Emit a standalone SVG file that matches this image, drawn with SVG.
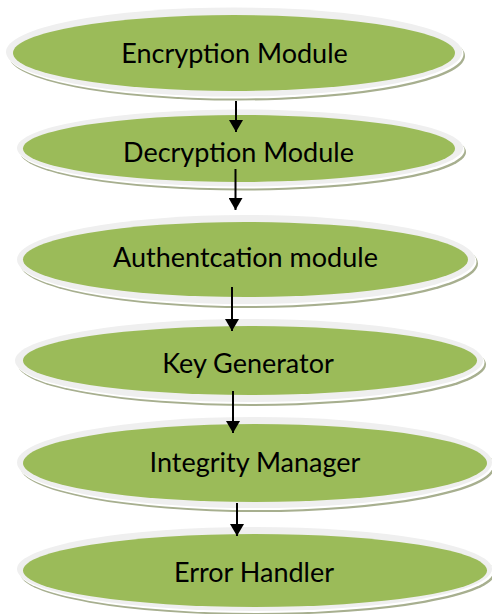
<svg xmlns="http://www.w3.org/2000/svg" width="492" height="614" viewBox="0 0 492 614">
  <style>
    .shadow { fill: #a7af8f; }
    .rim { fill: #ffffff; }
    .outer { fill: #efefef; }
    .core { fill: #9bbb59; }
    .label { font-family: Lato, "Open Sans", "Liberation Sans", sans-serif; font-size: 27px; fill: #000000; text-anchor: middle; }
    .link { stroke: #000000; stroke-width: 2; fill: none; marker-end: url(#head); }
  </style>
  <defs>
    <marker id="head" viewBox="0 0 12 14" refX="12" refY="7" markerWidth="12" markerHeight="14" markerUnits="userSpaceOnUse" orient="auto">
      <path d="M0,0 L12,7 L0,14 Z" fill="#000000"/>
    </marker>
  </defs>

  <rect width="492" height="614" fill="#ffffff"/>

  <g id="encryption-module">
    <ellipse class="shadow" cx="237" cy="56" rx="228" ry="44.5"/>
    <ellipse class="rim" cx="235.5" cy="54" rx="228" ry="44.5"/>
    <ellipse class="outer" cx="234" cy="52" rx="228" ry="44.5"/>
    <ellipse class="core" cx="234" cy="53" rx="221" ry="38"/>
    <text class="label" x="234.5" y="63">Encryption Module</text>
  </g>

  <g id="decryption-module">
    <ellipse class="shadow" cx="243" cy="152" rx="223" ry="38.5"/>
    <ellipse class="rim" cx="241.5" cy="150" rx="223" ry="38.5"/>
    <ellipse class="outer" cx="240" cy="148" rx="223" ry="38.5"/>
    <ellipse class="core" cx="239" cy="148.5" rx="216" ry="33.5"/>
    <text class="label" x="238.5" y="162">Decryption Module</text>
  </g>

  <g id="authentication-module">
    <ellipse class="shadow" cx="249" cy="263.5" rx="229" ry="44.5"/>
    <ellipse class="rim" cx="247.5" cy="261.5" rx="229" ry="44.5"/>
    <ellipse class="outer" cx="246" cy="259.5" rx="229" ry="44.5"/>
    <ellipse class="core" cx="245.5" cy="259.5" rx="222.5" ry="37.5"/>
    <text class="label" x="245.5" y="267">Authentcation module</text>
  </g>

  <g id="key-generator">
    <ellipse class="shadow" cx="252" cy="364.5" rx="234" ry="41.5"/>
    <ellipse class="rim" cx="250.5" cy="362.5" rx="234" ry="41.5"/>
    <ellipse class="outer" cx="249" cy="360.5" rx="234" ry="41.5"/>
    <ellipse class="core" cx="250" cy="360.5" rx="227" ry="34.5"/>
    <text class="label" x="248" y="373">Key Generator</text>
  </g>

  <g id="integrity-manager">
    <ellipse class="shadow" cx="257.5" cy="466.5" rx="237.5" ry="45.5"/>
    <ellipse class="rim" cx="256" cy="464.5" rx="237.5" ry="45.5"/>
    <ellipse class="outer" cx="254.5" cy="462.5" rx="237.5" ry="45.5"/>
    <ellipse class="core" cx="255" cy="463" rx="232" ry="39"/>
    <text class="label" x="255" y="472">Integrity Manager</text>
  </g>

  <g id="error-handler">
    <ellipse class="shadow" cx="257.5" cy="573" rx="237.5" ry="42"/>
    <ellipse class="rim" cx="256" cy="571" rx="237.5" ry="42"/>
    <ellipse class="outer" cx="254.5" cy="569" rx="237.5" ry="42"/>
    <ellipse class="core" cx="255" cy="570.5" rx="232" ry="36.5"/>
    <text class="label" x="254" y="582">Error Handler</text>
  </g>

  <g id="connectors">
    <line class="link" x1="236" y1="101" x2="236" y2="132"/>
    <line class="link" x1="235.5" y1="169" x2="235.5" y2="210"/>
    <line class="link" x1="232" y1="287" x2="232" y2="331"/>
    <line class="link" x1="233" y1="391" x2="233" y2="433"/>
    <line class="link" x1="237" y1="503" x2="237" y2="536"/>
  </g>
</svg>
